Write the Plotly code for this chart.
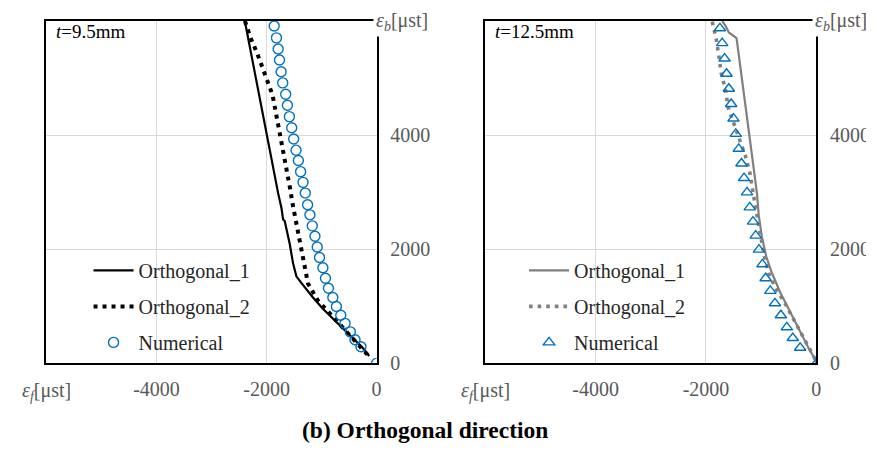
import plotly.graph_objects as go

# ---------------- data ----------------
left_num_x = [-1861, -1820, -1789, -1765, -1735, -1706, -1652, -1621, -1585, -1543, -1507, -1464,
              -1422, -1381, -1337, -1296, -1254, -1211, -1169, -1120, -1079, -1037, -976, -929,
              -875, -795, -730, -651, -573, -477, -392, -284, 0]
left_num_y = [5913, 5704, 5508, 5315, 5110, 4915, 4717, 4522, 4324, 4129, 3931, 3736,
              3555, 3360, 3172, 2984, 2779, 2603, 2410, 2227, 2039, 1856, 1675, 1492,
              1316, 1155, 996, 843, 701, 552, 415, 291, 0]
left_o1_x = [-2395, -2000, -1789, -1729, -1699, -1670, -1579, -1518, -1458, -1368, -1278,
             -1156, -976, -735, -495, -253, -134]
left_o1_y = [6000, 3993, 2979, 2722, 2522, 2495, 2095, 1753, 1526, 1412, 1299,
             1155, 957, 728, 501, 273, 130]
left_o2_x = [-2393, -2344, -2289, -2168, -2000, -1892, -1832, -1742, -1652, -1572, -1518,
             -1458, -1399, -1337, -1278, -1247, -1187, -1066, -916, -495, -145]
left_o2_y = [6000, 5855, 5701, 5428, 4990, 4705, 4402, 3958, 3514, 3064, 2751,
             2466, 2164, 1856, 1555, 1401, 1299, 1099, 945, 501, 130]

right_num_x = [-1748, -1706, -1663, -1627, -1586, -1544, -1501, -1460, -1406, -1357, -1310,
               -1256, -1207, -1148, -1099, -1040, -978, -919, -834, -751, -643, -535, -427, -294, 0]
right_num_y = [5872, 5611, 5342, 5076, 4813, 4546, 4290, 4021, 3760, 3503, 3247,
               2996, 2734, 2483, 2239, 1993, 1736, 1492, 1270, 1053, 843, 632, 444, 273, 0]
right_o1_x = [-1707, -1645, -1586, -1496, -1447, -1436, -1076, -1045, -986, -906, -805,
              -654, -474, -294, -144, -23, 0]
right_o1_y = [5999, 5913, 5799, 5742, 5701, 5627, 2979, 2608, 2210, 1868, 1583,
              1241, 899, 557, 273, 73, 0]
right_o2_x = [-1887, -1815, -1766, -1724, -1645, -1598, -1496, -1388, -1285, -1207, -1166,
              -1105, -1045, -997, -942, -865, -744, -595, -414, -265, -85, -23, 0]
right_o2_y = [5987, 5684, 5383, 5086, 4790, 4488, 4204, 3919, 3633, 3350, 3064,
              2751, 2437, 2153, 1868, 1583, 1326, 1099, 786, 501, 188, 73, 0]

x_ticks = [-4000, -2000, 0]
x_tick_labels = ["-4000", "-2000", "0"]
y_ticks = [0, 2000, 4000]
y_tick_labels = ["0", "2000", "4000"]
x_range = [-6000, 0]
y_range = [0, 6000]
series_names = ["Orthogonal_1", "Orthogonal_2", "Numerical"]
panel_labels = ["<i>t</i>=9.5mm", "<i>t</i>=12.5mm"]
x_axis_label = "<i>ε<sub>f</sub></i>[μst]"
y_axis_label = "<i>ε<sub>b</sub></i>[μst]"
title_text = "<b>(b) Orthogonal direction</b>"

# ---------------- style ----------------
W, H = 874, 449
FONT = "Liberation Serif"
TICK_COLOR = "#595959"
BLUE = "#0070C0"
GRAY = "#808080"
GRID = "#d9d9d9"

def px_x(v):
    return v / W

def px_y(v):
    return 1 - v / H

dom_y = [px_y(364.3), px_y(13.3)]
dom_x1 = [px_x(38.7), px_x(370.7)]
dom_x2 = [px_x(480), px_x(813)]

fig = go.Figure()

# left panel
fig.add_trace(go.Scatter(x=left_o1_x, y=left_o1_y, mode="lines", name=series_names[0],
                         line=dict(color="black", width=2.2), xaxis="x", yaxis="y",
                         legend="legend", legendgroup="a1"))
fig.add_trace(go.Scatter(x=left_o2_x, y=left_o2_y, mode="lines", name=series_names[1],
                         line=dict(color="black", width=4, dash="4px,5px"), xaxis="x", yaxis="y",
                         legend="legend", legendgroup="a2"))
fig.add_trace(go.Scatter(x=left_num_x, y=left_num_y, mode="markers", name=series_names[2],
                         marker=dict(symbol="circle-open", size=10, color=BLUE, line=dict(width=1.4)),
                         xaxis="x", yaxis="y", legend="legend", legendgroup="a3"))
# right panel
fig.add_trace(go.Scatter(x=right_o1_x, y=right_o1_y, mode="lines", name=series_names[0],
                         line=dict(color=GRAY, width=2.2), xaxis="x2", yaxis="y2",
                         legend="legend2", legendgroup="b1"))
fig.add_trace(go.Scatter(x=right_o2_x, y=right_o2_y, mode="lines", name=series_names[1],
                         line=dict(color=GRAY, width=3.6, dash="3.6px,5px"), xaxis="x2", yaxis="y2",
                         legend="legend2", legendgroup="b2"))
fig.add_trace(go.Scatter(x=right_num_x, y=right_num_y, mode="markers", name=series_names[2],
                         marker=dict(symbol="triangle-up-open", size=10, color=BLUE, line=dict(width=1.4)),
                         xaxis="x2", yaxis="y2", legend="legend2", legendgroup="b3"))

def xaxis(domain, anchor):
    return dict(domain=domain, anchor=anchor, range=x_range, tickvals=x_ticks, ticktext=x_tick_labels,
                showgrid=True, gridcolor=GRID, gridwidth=1, zeroline=False,
                showline=True, linecolor="black", linewidth=1.5, mirror=True,
                ticks="", ticklabelstandoff=7,
                tickfont=dict(family=FONT, size=20, color=TICK_COLOR), fixedrange=True)

def yaxis(anchor):
    return dict(domain=dom_y, anchor=anchor, range=y_range, tickvals=y_ticks, ticktext=y_tick_labels,
                side="right",
                showgrid=True, gridcolor=GRID, gridwidth=1, zeroline=False,
                showline=True, linecolor="black", linewidth=1.5, mirror=True,
                ticks="", ticklabelstandoff=8,
                tickfont=dict(family=FONT, size=20, color=TICK_COLOR), fixedrange=True)

def legend(xpx):
    return dict(x=px_x(xpx), xanchor="left", y=px_y(249), yanchor="top",
                bgcolor="rgba(0,0,0,0)", borderwidth=0, tracegroupgap=7,
                font=dict(family=FONT, size=20, color="#262626"), itemwidth=40)

annotations = []
for xr, yr, lab in [("x", "y", panel_labels[0]), ("x2", "y2", panel_labels[1])]:
    annotations.append(dict(x=-5860, y=5810, xref=xr, yref=yr, text=lab, showarrow=False,
                            xanchor="left", yanchor="middle",
                            font=dict(family=FONT, size=19, color="black")))
    annotations.append(dict(x=0, y=6000, xref=xr, yref=yr, text=y_axis_label, showarrow=False,
                            xanchor="left", yanchor="middle", xshift=-4, yshift=-1,
                            bgcolor="white", borderpad=2,
                            font=dict(family=FONT, size=20, color=TICK_COLOR)))
    annotations.append(dict(x=-6000, y=0, xref=xr, yref=yr, text=x_axis_label, showarrow=False,
                            xanchor="center", yanchor="middle", yshift=-28,
                            font=dict(family=FONT, size=20, color=TICK_COLOR)))
annotations.append(dict(x=px_x(419), y=px_y(433), xref="paper", yref="paper", text=title_text,
                        showarrow=False, xanchor="center", yanchor="middle",
                        font=dict(family=FONT, size=23.5, color="black")))

fig.update_layout(
    width=W, height=H, margin=dict(l=0, r=0, t=0, b=0, pad=0),
    paper_bgcolor="white", plot_bgcolor="white",
    font=dict(family=FONT),
    xaxis=xaxis(dom_x1, "y"), yaxis=yaxis("x"),
    xaxis2=xaxis(dom_x2, "y2"), yaxis2=yaxis("x2"),
    legend=legend(81), legend2=legend(519),
    annotations=annotations, showlegend=True,
)

fig.write_html("out.html")
